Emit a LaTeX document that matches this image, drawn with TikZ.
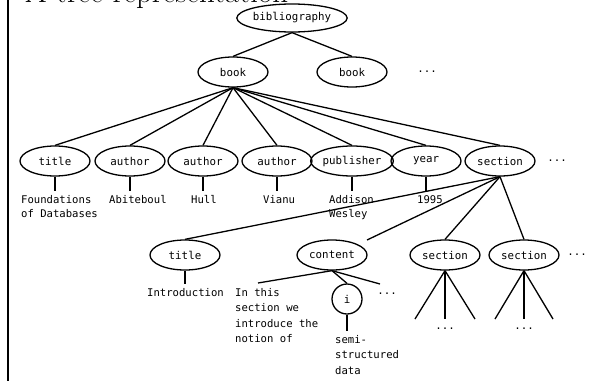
\documentclass[tikz,border=0pt]{standalone}
\usepackage{fontspec}
\newfontfamily\monof{DejaVu Sans Mono}
\usetikzlibrary{shapes.geometric}
\begin{document}
\begin{tikzpicture}[x=1pt,y=-1pt,
  every node/.style={font=\monof\fontsize{10.8}{15}\selectfont, text=black},
  el/.style={draw, ellipse, line width=1.3pt, minimum width=70pt, minimum height=30pt, inner sep=0pt},
  circ/.style={draw, circle, line width=1.3pt, minimum size=30pt, inner sep=0pt},
  leaf/.style={anchor=north west, align=left, inner xsep=0pt, inner ysep=4pt},
  leafa/.style={leaf, font=\monof\fontsize{10.6}{14}\selectfont},
  leafb/.style={leaf, font=\monof\fontsize{10.6}{15.5}\selectfont},
  edge/.style={line width=1.3pt},
  stem/.style={line width=1.9pt},
  dots/.style={inner sep=0pt}]
\useasboundingbox (0,0) rectangle (589,381);
\clip (0,0) rectangle (589,381);
% frame line and cut title
\draw[line width=2pt] (8,0) -- (8,381);
\node[anchor=base west, inner sep=0pt, font=\rmfamily\fontsize{31}{31}\selectfont] (ttl) at (25,2) {A tree representation};
% level 0 and 1
\node[el, minimum width=89pt, minimum height=28pt] (bib) at (292,18) {bibliography};
\node[el] (book1) at (233,72) {book};
\node[el] (book2) at (352,72) {book};
\node[dots] (d0) at (427,72) {...};
% level 2
\node[el] (t)   at (55,161)  {title};
\node[el] (a1)  at (130,161) {author};
\node[el] (a2)  at (203,161) {author};
\node[el] (a3)  at (277,161) {author};
\node[el, minimum width=72pt] (pub) at (352,161) {publisher};
\node[el] (yr)  at (426,161) {year};
\node[el] (sec) at (500,161) {section};
\node[dots] (d1) at (557,161) {...};
% leaves level 2
\node[leafa] (lf1) at (21,191)  {Foundations\\of Databases};
\node[leafa] (lf2) at (109,191) {Abiteboul};
\node[leafa] (lf3) at (191,191) {Hull};
\node[leafa] (lf4) at (263,191) {Vianu};
\node[leafa] (lf5) at (329,191) {Addison\\Wesley};
\node[leafa] (lf6) at (417,191) {1995};
% level 3
\node[el] (t3)   at (185,255) {title};
\node[el] (cont) at (332,255) {content};
\node[el] (s1)   at (445,255) {section};
\node[el] (s2)   at (524,255) {section};
\node[dots] (d2) at (577,255) {...};
\coordinate (cstub) at (367,240);
% level 4
\node[leafb] (intro) at (147,284) {Introduction};
\node[leafb] (inthis) at (235,284) {In this\\section we\\introduce the\\notion of};
\coordinate (c1) at (258,283);
\node[circ] (i) at (347,299) {i};
\coordinate (c2) at (380,284);
\node[dots] (d3) at (387,294) {...};
\node[leafb] (semi) at (335,331) {semi-\\structured\\data};
% section subtrees
\coordinate (s1a) at (415,319);
\coordinate (s1b) at (445,319);
\coordinate (s1c) at (475,319);
\coordinate (s2a) at (495,319);
\coordinate (s2b) at (524,319);
\coordinate (s2c) at (553,319);
\node[dots] (d4) at (445,329) {...};
\node[dots] (d5) at (524,329) {...};
% edges
\draw[edge] (bib.south) -- (book1.north);
\draw[edge] (bib.south) -- (book2.north);
\foreach \n in {t,a1,a2,a3,pub,yr,sec}{\draw[edge] (book1.south) -- (\n.north);}
\draw[stem] (t.south) -- (t.south |- lf1.north);
\draw[stem] (a1.south) -- (a1.south |- lf2.north);
\draw[stem] (a2.south) -- (a2.south |- lf3.north);
\draw[stem] (a3.south) -- (a3.south |- lf4.north);
\draw[stem] (pub.south) -- (pub.south |- lf5.north);
\draw[stem] (yr.south) -- (yr.south |- lf6.north);
\draw[edge] (sec.south) -- (t3.north);
\draw[edge] (sec.south) -- (cstub);
\draw[edge] (sec.south) -- (s1.north);
\draw[edge] (sec.south) -- (s2.north);
\draw[stem] (t3.south) -- (t3.south |- intro.north);
\draw[edge] (cont.south) -- (c1);
\draw[edge] (cont.south) -- (i.north);
\draw[edge] (cont.south) -- (c2);
\draw[stem] (i.south) -- (i.south |- semi.north);
\draw[edge] (s1.south) -- (s1a);
\draw[stem] (s1.south) -- (s1b);
\draw[edge] (s1.south) -- (s1c);
\draw[edge] (s2.south) -- (s2a);
\draw[stem] (s2.south) -- (s2b);
\draw[edge] (s2.south) -- (s2c);
\end{tikzpicture}
\end{document}
